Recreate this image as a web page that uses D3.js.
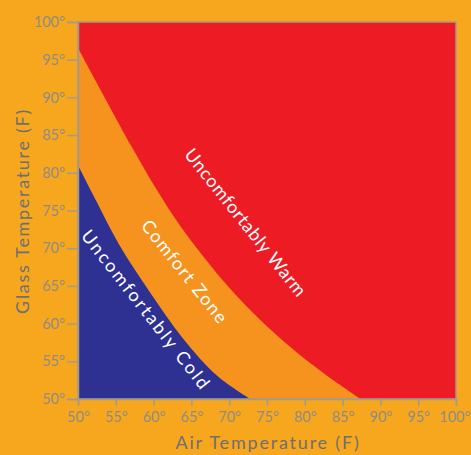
<!DOCTYPE html>
<html>
<head>
<meta charset="utf-8">
<script src="https://cdn.jsdelivr.net/npm/d3@7"></script>
<style>
  html, body { margin: 0; padding: 0; background: #F7A71E; }
  svg { display: block; }
  text { font-family: "Lato", "Open Sans", sans-serif; }
</style>
</head>
<body>
<svg id="chart" width="471" height="455"></svg>
<script>
// ---- data ----
const airTicks = [50, 55, 60, 65, 70, 75, 80, 85, 90, 95, 100];
const glassTicks = [50, 55, 60, 65, 70, 75, 80, 85, 90, 95, 100];
// boundary between comfort zone and uncomfortably warm: [air, glass]
const warmBoundary = [[50, 96.55], [57.05, 83.55], [60.36, 77.85], [63.53, 72.94], [66.84, 68.57], [70.15, 64.59], [74.12, 60.48], [78.09, 56.9], [82.45, 53.45], [87.35, 50.0]];
// boundary between uncomfortably cold and comfort zone: [air, glass]
const coldBoundary = [[50, 81.0], [52.42, 76.26], [55.47, 70.42], [59.58, 64.06], [63.94, 57.96], [68.44, 53.05], [72.8, 50.0]];
const zoneLabels = ["Uncomfortably Warm", "Comfort Zone", "Uncomfortably Cold"];
const xTitle = "Air Temperature (F)";
const yTitle = "Glass Temperature (F)";

// ---- layout ----
const W = 471, H = 455;
const margin = {left: 78, right: 15, top: 22, bottom: 56};
const svg = d3.select("#chart");
const x = d3.scaleLinear().domain([50, 100]).range([margin.left, W - margin.right]);
const y = d3.scaleLinear().domain([50, 100]).range([H - margin.bottom, margin.top]);

const colors = {bg: "#F7A71E", warm: "#ED1C24", comfort: "#F6921E", cold: "#2E3192", axis: "#A39A8C", tick: "#918C84", title: "#6E6F73"};

// comfort base
svg.append("rect")
  .attr("x", x(50)).attr("y", y(100))
  .attr("width", x(100) - x(50)).attr("height", y(50) - y(100))
  .attr("fill", colors.comfort);

const line = d3.line().x(d => x(d[0])).y(d => y(d[1])).curve(d3.curveCatmullRom.alpha(0.5));

// warm area
const warmPath = line(warmBoundary) + "L" + x(100) + "," + y(50) + "L" + x(100) + "," + y(100) + "L" + x(50) + "," + y(100) + "Z";
svg.append("path").attr("d", warmPath).attr("fill", colors.warm);

// cold area
const coldPath = line(coldBoundary) + "L" + x(50) + "," + y(50) + "Z";
svg.append("path").attr("d", coldPath).attr("fill", colors.cold);

// frame
svg.append("rect")
  .attr("x", x(50)).attr("y", y(100))
  .attr("width", x(100) - x(50)).attr("height", y(50) - y(100))
  .attr("fill", "none").attr("stroke", colors.axis).attr("stroke-width", 1.5);

// axes
const fmt = d => d + "°";
const xAxis = svg.append("g")
  .attr("transform", `translate(0,${y(50)})`)
  .call(d3.axisBottom(x).tickValues(airTicks).tickFormat(fmt).tickSize(7).tickPadding(6));
const yAxis = svg.append("g")
  .attr("transform", `translate(${x(50)},0)`)
  .call(d3.axisLeft(y).tickValues(glassTicks).tickFormat(fmt).tickSize(11).tickPadding(2));
[xAxis, yAxis].forEach(a => {
  a.select(".domain").attr("stroke", colors.axis).attr("stroke-width", 1.5);
  a.selectAll(".tick line").attr("stroke", colors.axis).attr("stroke-width", 1.5);
  a.selectAll(".tick text").attr("fill", colors.tick).attr("font-size", 14.5)
    .style("font-family", "Lato, sans-serif");
});
// keep the last x label inside the window
xAxis.selectAll(".tick text").filter(d => d === 100).attr("text-anchor", "end").attr("dx", 14);

// axis titles
svg.append("text")
  .attr("x", 268).attr("y", 449)
  .attr("text-anchor", "middle")
  .attr("fill", colors.title).attr("font-size", 18)
  .attr("letter-spacing", 1.8)
  .text(xTitle);
svg.append("text")
  .attr("transform", `translate(29,${211}) rotate(-90)`)
  .attr("text-anchor", "middle")
  .attr("fill", colors.title).attr("font-size", 18)
  .attr("letter-spacing", 1.7)
  .text(yTitle);

// zone labels
const labelPos = [
  {cx: 246, cy: 222, angle: 51.5, len: 183},
  {cx: 185, cy: 271, angle: 51.5, len: 126},
  {cx: 146, cy: 309, angle: 52, len: 196}
];
zoneLabels.forEach((t, i) => {
  const p = labelPos[i];
  svg.append("text")
    .attr("transform", `translate(${p.cx},${p.cy}) rotate(${p.angle})`)
    .attr("text-anchor", "middle")
    .attr("dominant-baseline", "central")
    .attr("textLength", p.len).attr("lengthAdjust", "spacing")
    .attr("fill", "#FFFFFF").attr("font-size", 18)
    .text(t);
});
</script>
</body>
</html>
